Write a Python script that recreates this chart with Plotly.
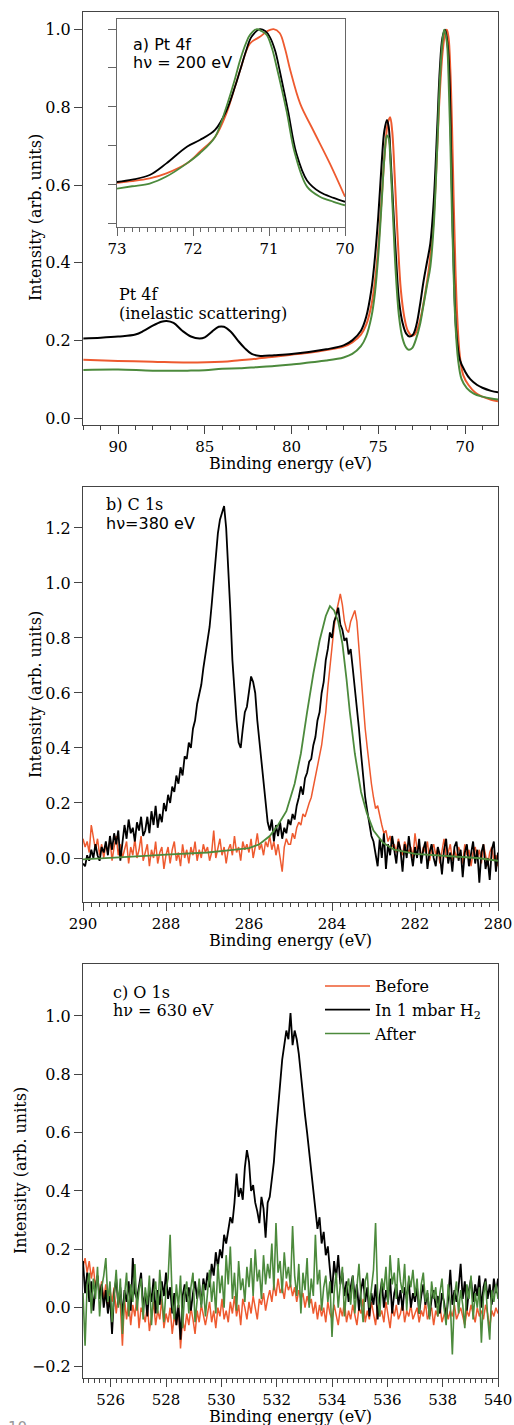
import numpy as np
import plotly.graph_objects as go

# ---------------- colours ----------------
RED = "#ee5a2f"
BLACK = "#000000"
GREEN = "#4c8a3c"
FRAME = "#444444"

# ---------------- Panel a: Pt 4f (main) ----------------
PT_E_BLACK = [92.0, 91.0, 90.0, 89.0, 88.5, 88.0, 87.5, 87.2, 86.8, 86.3,
              85.8, 85.3, 85.0, 84.6, 84.2, 83.9, 83.5, 83.1, 82.7, 82.3,
              81.8, 81.0, 80.0, 79.0, 78.0, 77.0, 76.5, 76.0, 75.7, 75.4,
              75.2, 75.0, 74.8, 74.65, 74.5, 74.4, 74.3, 74.15, 74.0, 73.8,
              73.6, 73.4, 73.2, 73.0, 72.8, 72.6, 72.4, 72.2, 72.0, 71.8,
              71.6, 71.45, 71.3, 71.15, 71.0, 70.9, 70.8, 70.7, 70.6, 70.5,
              70.3, 70.0, 69.7, 69.3, 69.0, 68.5, 68.1]
PT_I_BLACK = [0.205, 0.207, 0.21, 0.215, 0.225, 0.238, 0.248, 0.25, 0.245, 0.225,
              0.21, 0.205, 0.208, 0.222, 0.235, 0.235, 0.222, 0.2, 0.18, 0.165,
              0.16, 0.162, 0.165, 0.17, 0.177, 0.187, 0.2, 0.225, 0.26, 0.33,
              0.41, 0.52, 0.66, 0.74, 0.768, 0.75, 0.68, 0.55, 0.43, 0.3,
              0.245, 0.218, 0.21, 0.215, 0.24, 0.29, 0.35, 0.4, 0.45, 0.56,
              0.75, 0.9, 0.98, 1.0, 0.96, 0.88, 0.68, 0.47, 0.31, 0.22,
              0.15, 0.12, 0.1, 0.085, 0.078, 0.07, 0.066]

PT_E_RED = [92, 90, 88, 86, 84, 83, 82, 81, 80, 79,
            78, 77, 76.5, 76, 75.7, 75.4, 75.2, 75.0, 74.8, 74.6,
            74.45, 74.32, 74.2, 74.05, 73.9, 73.7, 73.5, 73.3, 73.05, 72.9,
            72.7, 72.5, 72.3, 72.1, 71.9, 71.7, 71.5, 71.3, 71.15, 71.05,
            70.95, 70.85, 70.75, 70.65, 70.55, 70.45, 70.3, 70.1, 69.8, 69.4,
            69.0, 68.5, 68.1]
PT_I_RED = [0.15, 0.147, 0.145, 0.143, 0.145, 0.149, 0.153, 0.158, 0.163, 0.168,
            0.175, 0.184, 0.195, 0.215, 0.24, 0.29, 0.35, 0.44, 0.57, 0.7,
            0.76, 0.775, 0.74, 0.62, 0.48, 0.33, 0.26, 0.225, 0.212, 0.215,
            0.235, 0.27, 0.32, 0.38, 0.46, 0.6, 0.8, 0.94, 0.99, 1.0,
            0.98, 0.9, 0.75, 0.55, 0.38, 0.26, 0.16, 0.11, 0.085, 0.065,
            0.055, 0.047, 0.043]

PT_E_GREEN = [92, 90, 88, 86, 85, 84, 83, 82, 81, 80,
              79, 78, 77, 76.5, 76, 75.7, 75.4, 75.2, 75.0, 74.8,
              74.65, 74.5, 74.4, 74.3, 74.15, 74.0, 73.8, 73.6, 73.4, 73.25,
              73.05, 72.85, 72.6, 72.4, 72.2, 72.0, 71.8, 71.6, 71.45, 71.3,
              71.2, 71.05, 70.95, 70.85, 70.75, 70.65, 70.55, 70.4, 70.2, 69.9,
              69.5, 69.0, 68.5, 68.1]
PT_I_GREEN = [0.124, 0.125, 0.122, 0.122, 0.123, 0.127, 0.128, 0.131, 0.134, 0.138,
              0.143, 0.148, 0.156, 0.165, 0.185, 0.21, 0.26, 0.32, 0.42, 0.56,
              0.67, 0.728, 0.72, 0.66, 0.52, 0.38, 0.26, 0.205, 0.182, 0.176,
              0.18, 0.2, 0.24, 0.29, 0.34, 0.39, 0.5, 0.7, 0.87, 0.97,
              1.0, 0.97, 0.88, 0.72, 0.52, 0.36, 0.24, 0.15, 0.1, 0.077,
              0.063, 0.055, 0.05, 0.048]

# ---------------- Panel a inset (Pt 4f 7/2) ----------------
IN_E_BLACK = [73.0, 72.8, 72.57, 72.35, 72.08, 71.91, 71.71, 71.56, 71.45, 71.38,
              71.3, 71.23, 71.12, 71.05, 70.99, 70.92, 70.86, 70.75, 70.64, 70.5,
              70.33, 70.15, 70.0]
IN_I_BLACK = [0.606, 0.612, 0.624, 0.654, 0.697, 0.714, 0.74, 0.79, 0.85, 0.894,
              0.945, 0.98, 1.0, 0.995, 0.98, 0.945, 0.894, 0.79, 0.68, 0.61,
              0.58, 0.565, 0.555]
IN_E_RED = [73.0, 72.8, 72.57, 72.35, 72.08, 71.91, 71.71, 71.56, 71.45, 71.38,
            71.25, 71.12, 71.02, 70.94, 70.86, 70.79, 70.72, 70.59, 70.42, 70.2,
            70.0]
IN_I_RED = [0.604, 0.608, 0.615, 0.628, 0.654, 0.684, 0.722, 0.783, 0.85, 0.894,
            0.963, 0.98, 0.995, 1.0, 0.99, 0.95, 0.894, 0.808, 0.74, 0.654,
            0.568]
IN_E_GREEN = [73.0, 72.8, 72.57, 72.35, 72.08, 71.91, 71.71, 71.56, 71.45, 71.38,
              71.3, 71.25, 71.16, 71.1, 71.03, 70.96, 70.9, 70.77, 70.66, 70.5,
              70.33, 70.15, 70.0]
IN_I_GREEN = [0.589, 0.595, 0.602, 0.62, 0.654, 0.68, 0.722, 0.8, 0.87, 0.92,
              0.965, 0.985, 1.0, 0.995, 0.985, 0.95, 0.903, 0.79, 0.68, 0.594,
              0.568, 0.555, 0.546]

# ---------------- Panel b: C 1s ----------------
CS_START, CS_STEP = 290.0, -0.05   # measurement grid
CS_I_BLACK = [
    -0.02, -0.03, 0.01, -0.01, 0.03, 0.0, 0.05, 0.01, -0.01, 0.04,
    0.02, 0.06, 0.01, 0.08, 0.03, 0.09, 0.05, 0.1, -0.01, 0.06,
    0.12, 0.07, 0.14, 0.09, 0.11, 0.06, 0.13, 0.1, 0.15, 0.08,
    0.1, 0.15, 0.09, 0.17, 0.12, 0.19, 0.11, 0.16, 0.13, 0.2,
    0.17, 0.23, 0.2, 0.26, 0.24, 0.3, 0.27, 0.33, 0.3, 0.37,
    0.36, 0.42, 0.4, 0.47, 0.5, 0.56, 0.6, 0.63, 0.69, 0.74,
    0.79, 0.84, 0.92, 1.0, 1.08, 1.18, 1.23, 1.26, 1.28, 1.2,
    1.06, 0.9, 0.72, 0.6, 0.5, 0.42, 0.4, 0.47, 0.53, 0.55,
    0.6, 0.66, 0.64, 0.6, 0.5, 0.42, 0.36, 0.28, 0.2, 0.13,
    0.1, 0.14, 0.06, 0.12, 0.08, 0.13, 0.07, 0.11, 0.09, 0.14,
    0.12, 0.16, 0.14, 0.19, 0.22, 0.26, 0.23, 0.29, 0.31, 0.35,
    0.36, 0.41, 0.44, 0.5, 0.53, 0.6, 0.64, 0.72, 0.76, 0.82,
    0.8, 0.86, 0.88, 0.91, 0.85, 0.83, 0.79, 0.8, 0.74, 0.76,
    0.69, 0.62, 0.55, 0.47, 0.38, 0.3, 0.22, 0.17, 0.12, 0.08,
    0.06, 0.02, -0.03, 0.07, 0.0, 0.09, -0.04, 0.05, 0.01, 0.08,
    0.02, -0.02, 0.06, 0.03, -0.05, 0.05, 0.0, 0.08, 0.02, -0.03,
    0.04, 0.0, 0.07, -0.02, 0.03, 0.06, -0.04, 0.02, 0.05, 0.0,
    -0.03, 0.04, 0.01, -0.06, 0.03, 0.07, -0.02, 0.02, -0.05, 0.04,
    0.06, -0.01, 0.03, -0.07, 0.02, 0.05, -0.03, 0.01, 0.06, -0.02,
    0.03, -0.09, 0.02, 0.05, -0.04, 0.0, -0.08, 0.03, 0.06, -0.05,
    0.02]
CS_I_RED = [
    0.07, 0.04, 0.06, 0.02, 0.12, 0.08, 0.03, 0.07, 0.01, 0.05,
    0.0, 0.05, 0.02, 0.07, -0.01, 0.04, 0.08, 0.01, 0.05, 0.0,
    0.03, 0.06, -0.02, 0.04, 0.01, 0.07, 0.0, 0.03, 0.08, -0.01,
    0.02, 0.05, -0.03, 0.03, 0.0, 0.06, -0.02, 0.02, 0.04, -0.04,
    0.01, 0.04, -0.02, 0.03, 0.06, -0.01, 0.02, -0.03, 0.05, 0.0,
    0.03, -0.02, 0.04, 0.01, 0.06, -0.01, 0.03, 0.0, 0.05, 0.02,
    0.04, -0.01, 0.02, 0.1, 0.0, 0.03, 0.07, 0.01, 0.04, -0.02,
    0.03, 0.05, 0.01, 0.08, 0.02, 0.04, -0.01, 0.06, 0.03, 0.05,
    0.02, 0.07, 0.0, 0.04, 0.09, 0.03, 0.05, 0.01, 0.06, 0.04,
    0.08, 0.03, 0.06, 0.01, 0.05, 0.0, -0.05, 0.04, 0.07, 0.05,
    0.05, 0.09, 0.07, 0.11, 0.13, 0.12, 0.16, 0.15, 0.18, 0.2,
    0.22, 0.26, 0.29, 0.33, 0.37, 0.41, 0.47, 0.53, 0.62, 0.7,
    0.78, 0.84, 0.89, 0.93, 0.96, 0.92, 0.86, 0.83, 0.82, 0.86,
    0.88, 0.9, 0.86, 0.76, 0.65, 0.57, 0.47, 0.4, 0.33, 0.27,
    0.22, 0.18, 0.19, 0.15, 0.12, 0.09, 0.1, 0.06, 0.08, 0.04,
    0.05, 0.02, 0.07, 0.03, 0.01, 0.06, 0.04, 0.02, 0.04, 0.0,
    0.09, 0.03, 0.05, 0.0, 0.04, 0.02, 0.06, -0.01, 0.03, 0.05,
    0.01, 0.04, -0.02, 0.03, 0.07, 0.0, 0.02, 0.05, -0.01, 0.03,
    0.0, 0.04, 0.02, -0.02, 0.05, 0.01, 0.03, -0.03, 0.02, 0.04,
    0.0, 0.03, -0.02, 0.05, 0.01, -0.03, 0.02, 0.04, -0.01, 0.01,
    -0.03]
CS_E_GREEN = [290, 289.5, 289, 288.5, 288, 287.5, 287, 286.5, 286, 285.75,
              285.5, 285.3, 285.1, 284.9, 284.75, 284.6, 284.45, 284.3, 284.15, 284.05,
              283.95, 283.85, 283.75, 283.65, 283.57, 283.45, 283.3, 283.16, 283.0, 282.77,
              282.5, 282.0, 281.5, 281.0, 280.5, 280.0]
CS_I_GREEN = [-0.005, 0.0, 0.005, 0.008, 0.012, 0.016, 0.02, 0.028, 0.036, 0.05,
              0.08, 0.12, 0.17, 0.27, 0.38, 0.53, 0.67, 0.79, 0.88, 0.916,
              0.9, 0.86, 0.78, 0.65, 0.53, 0.38, 0.24, 0.163, 0.1, 0.055,
              0.03, 0.015, 0.01, 0.005, 0.0, -0.01]

# ---------------- Panel c: O 1s ----------------
OS_START, OS_STEP = 525.0, 0.075   # measurement grid
OS_I_RED = [
    0.14, 0.17, 0.12, 0.16, 0.1, 0.14, 0.07, 0.11, 0.04, 0.09,
    0.03, 0.08, 0.0, 0.06, 0.02, 0.07, -0.02, 0.04, 0.01, -0.13,
    0.03, -0.04, 0.02, -0.06, 0.01, -0.03, 0.04, -0.07, 0.0, -0.02,
    -0.05, 0.01, -0.08, -0.02, 0.02, -0.06, -0.01, -0.04, 0.03, -0.07,
    -0.02, -0.05, 0.0, -0.09, -0.03, -0.06, 0.01, -0.14, -0.04, -0.08,
    -0.02, -0.06, 0.0, -0.04, -0.09, -0.01, -0.05, 0.01, -0.03, -0.06,
    -0.02, 0.02, -0.05, -0.01, -0.07, 0.0, -0.03, 0.03, -0.04, -0.01,
    -0.05, 0.02, -0.02, 0.04, -0.03, 0.01, -0.06, 0.03, 0.0, -0.04,
    0.02, -0.02, 0.04, 0.0, -0.04, 0.03, 0.01, 0.05, -0.01, 0.03,
    0.06, 0.02, 0.08, 0.04, 0.1, 0.05, 0.07, 0.03, 0.09, 0.06,
    0.08, 0.04, 0.07, 0.02, 0.06, 0.03, 0.05, 0.0, 0.04, 0.01,
    0.03, -0.02, 0.02, -0.04, 0.01, -0.03, 0.0, -0.05, 0.02, -0.02,
    -0.04, 0.01, -0.02, -0.06, 0.0, -0.03, 0.02, -0.05, -0.01, -0.04,
    0.01, -0.03, -0.06, 0.0, -0.02, 0.03, -0.05, -0.01, -0.04, 0.02,
    -0.02, -0.06, 0.01, -0.03, -0.01, -0.05, 0.02, -0.02, -0.07, 0.0,
    -0.03, 0.01, -0.04, -0.02, 0.02, -0.05, -0.01, -0.03, 0.01, -0.04,
    -0.02, 0.0, -0.05, -0.01, -0.03, 0.02, -0.04, -0.02, 0.0, -0.06,
    -0.01, -0.03, 0.01, -0.05, -0.02, 0.0, -0.04, -0.01, -0.03, 0.01,
    -0.04, -0.02, 0.0, -0.03, -0.06, -0.01, -0.03, 0.01, -0.02, -0.05,
    0.0, -0.03, -0.01, -0.04, 0.01, -0.02, -0.07, -0.01, -0.03, 0.0,
    -0.02]
OS_I_BLACK = [
    0.16, 0.05, 0.12, 0.02, 0.09, -0.01, 0.07, 0.11, 0.03, 0.08,
    0.0, 0.06, -0.02, 0.04, -0.09, 0.05, 0.1, 0.01, 0.07, -0.03,
    0.06, 0.02, 0.09, -0.01, 0.17, 0.05, 0.03, 0.08, 0.12, 0.0,
    0.05, -0.03, 0.07, 0.02, 0.1, -0.02, 0.06, 0.01, 0.09, 0.04,
    0.12, 0.03, 0.07, -0.02, 0.05, -0.06, 0.01, -0.11, 0.04, 0.08,
    0.02, 0.07, -0.01, 0.05, 0.09, 0.03, 0.08, 0.01, 0.1, 0.06,
    0.12, 0.07, 0.15, 0.11, 0.19, 0.14, 0.2, 0.17, 0.25, 0.22,
    0.27, 0.31, 0.29, 0.36, 0.46, 0.38, 0.41, 0.37, 0.48, 0.54,
    0.5, 0.4, 0.42, 0.36, 0.33, 0.29, 0.38, 0.34, 0.24, 0.36,
    0.38, 0.44, 0.5, 0.6, 0.68, 0.76, 0.85, 0.9, 0.95, 0.92,
    1.01, 0.9, 0.95, 0.92, 0.87, 0.8, 0.72, 0.66, 0.6, 0.53,
    0.47, 0.39, 0.34, 0.27, 0.31, 0.22, 0.26, 0.18, 0.21, 0.12,
    0.05, 0.16, 0.1, 0.18, 0.08, 0.12, 0.04, 0.09, 0.02, 0.07,
    0.11, 0.03, 0.08, -0.01, 0.06, 0.1, 0.02, 0.07, -0.03, 0.05,
    0.01, 0.08, -0.04, 0.04, 0.09, 0.0, 0.06, 0.02, 0.1, -0.02,
    0.05, 0.08, 0.01, 0.06, -0.01, 0.07, 0.03, 0.09, 0.0, 0.05,
    0.02, 0.07, -0.02, 0.04, 0.08, 0.01, 0.05, -0.03, 0.03, 0.06,
    0.0, 0.04, -0.02, 0.05, 0.02, -0.04, 0.03, 0.13, 0.01, 0.06,
    0.02, 0.07, 0.15, 0.03, 0.09, -0.01, 0.06, 0.1, 0.02, 0.08,
    0.04, 0.11, 0.0, 0.07, 0.1, 0.03, 0.08, 0.01, 0.1, 0.05,
    0.1]
OS_I_GREEN = [
    0.05, -0.13, 0.08, 0.12, -0.02, 0.1, 0.03, 0.14, -0.03, 0.07,
    0.11, 0.17, 0.02, 0.09, -0.05, 0.06, 0.13, 0.0, 0.1, -0.09,
    0.04, 0.12, -0.03, 0.08, 0.02, 0.15, -0.01, 0.06, 0.1, -0.04,
    0.07, 0.01, 0.11, -0.06, 0.05, 0.09, -0.02, 0.13, 0.03, -0.05,
    0.06, 0.1, 0.25, 0.02, -0.04, 0.08, 0.0, 0.11, -0.07, 0.05,
    0.09, -0.02, 0.07, 0.12, -0.05, 0.04, 0.1, 0.0, 0.08, -0.03,
    0.06, 0.13, 0.02, 0.09, -0.02, 0.15, 0.05, 0.11, 0.0, 0.18,
    0.08, 0.21, 0.03, 0.12, -0.01, 0.16, 0.06, 0.1, 0.02, 0.14,
    0.07, 0.17, 0.04, 0.2, 0.09, 0.13, 0.03, 0.18, 0.08, 0.15,
    0.1, 0.22, 0.06, 0.29, 0.12, 0.16, 0.05, 0.19, 0.1, 0.14,
    0.07, 0.28, 0.11, 0.04, 0.15, -0.02, 0.12, 0.06, 0.17, 0.0,
    0.1, 0.04, 0.25, 0.08, 0.13, -0.01, 0.07, 0.11, 0.02, 0.09,
    -0.1, 0.05, 0.12, 0.0, 0.08, 0.14, -0.03, 0.06, 0.1, 0.01,
    0.11, -0.02, 0.07, 0.15, 0.03, -0.05, 0.09, 0.12, 0.0, 0.06,
    0.13, 0.29, 0.04, -0.03, 0.1, 0.06, 0.14, 0.01, 0.18, 0.08,
    0.12, 0.03, 0.17, 0.09, 0.05, 0.15, -0.01, 0.11, 0.07, 0.13,
    0.04, 0.1, -0.02, 0.08, 0.12, 0.02, 0.06, -0.04, 0.09, 0.03,
    0.07, -0.03, 0.05, 0.1, 0.0, -0.06, 0.08, 0.02, -0.16, 0.04,
    0.09, -0.02, 0.06, 0.01, -0.07, 0.08, 0.03, 0.11, -0.04, 0.05,
    0.0, 0.07, -0.12, 0.04, 0.09, -0.03, -0.11, 0.06, 0.02, 0.08,
    0.03]

SERIES_NAMES = ["Before", "In 1 mbar H<sub>2</sub>", "After"]
X_TITLE = "Binding energy (eV)"
Y_TITLE = "Intensity (arb. units)"

cs_e = np.round(CS_START + CS_STEP * np.arange(len(CS_I_BLACK)), 3)
os_e = np.round(OS_START + OS_STEP * np.arange(len(OS_I_BLACK)), 3)

SERIF = "DejaVu Serif"
SANS = "DejaVu Sans"
FS = 16
TFS = 15

fig = go.Figure()

def add(x, y, color, xa, ya, width=1.8, name=None, legend=False, shape="linear"):
    fig.add_trace(go.Scatter(x=x, y=y, mode="lines", xaxis=xa, yaxis=ya,
                             line=dict(color=color, width=width, shape=shape),
                             name=name, showlegend=legend, legendgroup=name,
                             hoverinfo="skip"))

# panel a
add(PT_E_RED, PT_I_RED, RED, "x", "y", width=2, shape="spline")
add(PT_E_BLACK, PT_I_BLACK, BLACK, "x", "y", width=2, shape="spline")
add(PT_E_GREEN, PT_I_GREEN, GREEN, "x", "y", width=2, shape="spline")
# inset
add(IN_E_RED, IN_I_RED, RED, "x4", "y4", width=1.8, shape="spline")
add(IN_E_BLACK, IN_I_BLACK, BLACK, "x4", "y4", width=1.8, shape="spline")
add(IN_E_GREEN, IN_I_GREEN, GREEN, "x4", "y4", width=1.8, shape="spline")
# panel b
add(cs_e, CS_I_RED, RED, "x2", "y2", width=1.5)
add(cs_e, CS_I_BLACK, BLACK, "x2", "y2", width=1.8)
add(CS_E_GREEN, CS_I_GREEN, GREEN, "x2", "y2", width=1.8)
# panel c
add(os_e, OS_I_RED, RED, "x3", "y3", width=1.5, name=SERIES_NAMES[0], legend=True)
add(os_e, OS_I_BLACK, BLACK, "x3", "y3", width=1.8, name=SERIES_NAMES[1], legend=True)
add(os_e, OS_I_GREEN, GREEN, "x3", "y3", width=1.6, name=SERIES_NAMES[2], legend=True)

W, H = 514, 1425
def px_x(p): return p / W
def px_y(p): return 1 - p / H

def xaxis(domain, anchor, rng, dtick, tick0, mdtick, color=FRAME):
    return dict(domain=domain, anchor=anchor, range=rng, dtick=dtick, tick0=tick0,
                ticks="outside", ticklen=8, tickwidth=1, tickcolor=color,
                showline=True, linecolor=color, linewidth=1, mirror=True,
                showgrid=False, zeroline=False, automargin=False,
                tickfont=dict(family=SERIF, size=TFS, color="black"),
                minor=dict(dtick=mdtick, tick0=tick0, ticks="outside", ticklen=4,
                           tickwidth=1, tickcolor=color, showgrid=False))

def yaxis(domain, anchor, rng, dtick, tick0, labels=True, color=FRAME):
    return dict(domain=domain, anchor=anchor, range=rng, dtick=dtick, tick0=tick0,
                ticks="outside", ticklen=8, tickwidth=1, tickcolor=color,
                showline=True, linecolor=color, linewidth=1, mirror=True,
                showgrid=False, zeroline=False, automargin=False,
                showticklabels=labels, tickformat=".1f",
                tickfont=dict(family=SERIF, size=FS, color="black"))

fig.update_layout(
    width=W, height=H, margin=dict(l=0, r=0, t=0, b=0),
    paper_bgcolor="white", plot_bgcolor="white", template="none",
    xaxis=xaxis([px_x(83), px_x(498)], "y", [92.02, 68.1], 5, 70, 1),
    yaxis=yaxis([px_y(425), px_y(12)], "x", [-0.018, 1.046], 0.2, 0),
    xaxis2=xaxis([px_x(83), px_x(498)], "y2", [290, 280], 2, 280, 0.2),
    yaxis2=yaxis([px_y(902), px_y(487)], "x2", [-0.16, 1.349], 0.2, 0),
    xaxis3=xaxis([px_x(83), px_x(498)], "y3", [525, 540], 2, 526, 0.2),
    yaxis3=yaxis([px_y(1378), px_y(964)], "x3", [-0.241, 1.178], 0.2, 0),
    xaxis4=xaxis([px_x(117), px_x(345)], "y4", [73, 70], 1, 70, 0.1, color="#666666"),
    yaxis4=yaxis([px_y(227), px_y(19)], "x4", [0.49, 1.026], 0.1, 0.5, labels=False,
                 color="#666666"),
    legend=dict(x=px_x(320), y=px_y(969), xanchor="left", yanchor="top",
                bgcolor="rgba(0,0,0,0)", font=dict(family=SERIF, size=FS, color="black"),
                tracegroupgap=0, itemwidth=45),
    showlegend=True,
)

def note(text, xp, yp, family, size=FS, color="black", xanchor="left", angle=0):
    fig.add_annotation(text=text, x=px_x(xp), y=px_y(yp), xref="paper", yref="paper",
                       xanchor=xanchor, yanchor="middle", showarrow=False, textangle=angle,
                       font=dict(family=family, size=size, color=color))

# axis titles
for yc in (463, 940, 1416):
    note(X_TITLE, 290.5, yc, SERIF, xanchor="center")
note(Y_TITLE, 35, 218, SERIF, xanchor="center", angle=-90)
note(Y_TITLE, 35, 695, SERIF, xanchor="center", angle=-90)
note(Y_TITLE, 20, 1171, SERIF, xanchor="center", angle=-90)

# panel labels
note("a) Pt 4f", 131, 44, SANS)
note("h\u03bd = 200 eV", 131, 62, SANS)
note("Pt 4f", 117, 294, SERIF)
note("(inelastic scattering)", 117, 313, SERIF)
note("b) C 1s", 104, 504, SERIF)
note("h\u03bd=380 eV", 104, 523, SANS)
note("c) O 1s", 111, 992, SERIF)
note("h\u03bd = 630 eV", 111, 1010, SERIF)
fig.add_annotation(text="10", x=px_x(6), y=px_y(1417), xref="paper", yref="paper",
                   xanchor="left", yanchor="top", showarrow=False,
                   font=dict(family=SANS, size=15, color="#999999"))

fig.write_html("out.html")
